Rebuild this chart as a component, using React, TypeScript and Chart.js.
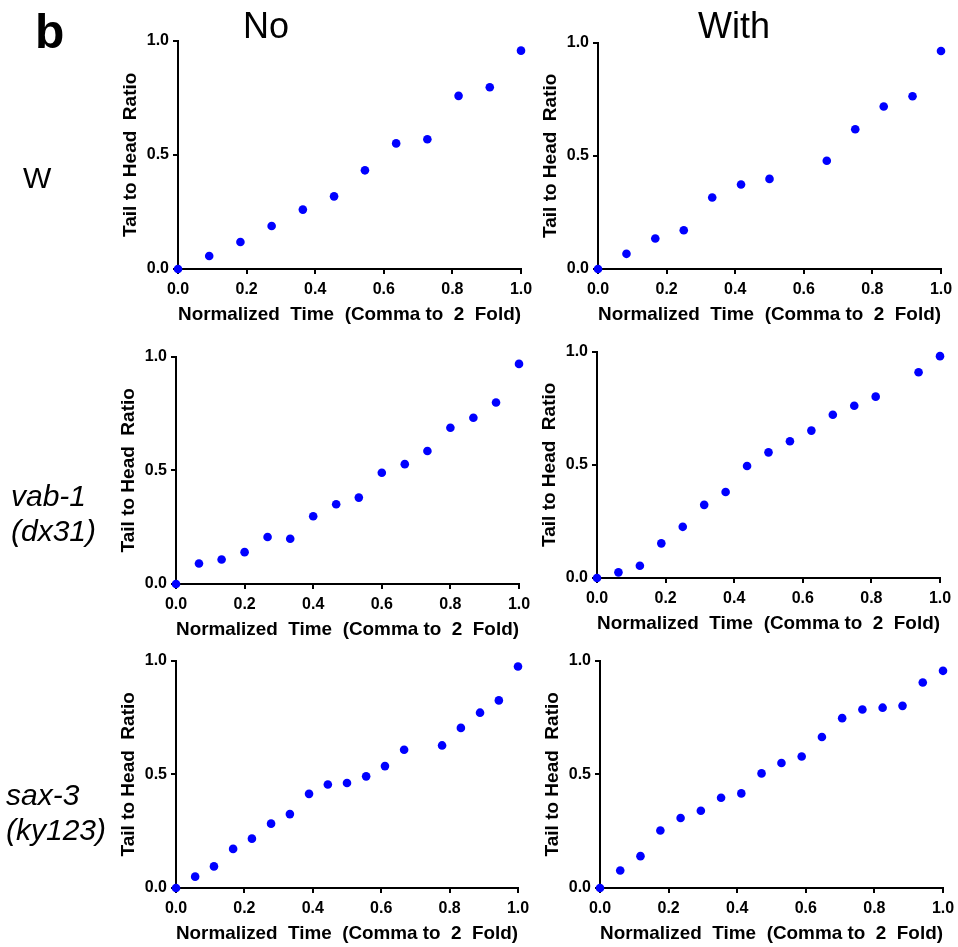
import React, { useEffect, useRef } from "react";
import { Chart, registerables } from "chart.js";

Chart.register(...registerables);

// ---------- data ----------
const X_TICKS = [0, 0.2, 0.4, 0.6, 0.8, 1.0];
const Y_TICKS = [0, 0.5, 1.0];
const X_TITLE = "Normalized  Time  (Comma to  2  Fold)";
const Y_TITLE = "Tail to Head  Ratio";
const PANEL_LETTER = "b";
const COLUMN_TITLES = ["No", "With"];
const ROW_LABEL_W = ["W"];
const ROW_LABEL_VAB = ["vab-1", "(dx31)"];
const ROW_LABEL_SAX = ["sax-3", "(ky123)"];

// W, No
const wNoX = [0, 0.091, 0.182, 0.273, 0.364, 0.455, 0.545, 0.636, 0.727, 0.818, 0.909, 1.0];
const wNoY = [0, 0.057, 0.118, 0.188, 0.26, 0.318, 0.432, 0.55, 0.568, 0.758, 0.796, 0.956];
// W, With
const wWithX = [0, 0.083, 0.167, 0.25, 0.333, 0.417, 0.5, 0.667, 0.75, 0.833, 0.917, 1.0];
const wWithY = [0, 0.067, 0.135, 0.171, 0.316, 0.373, 0.398, 0.478, 0.617, 0.718, 0.763, 0.963];
// vab-1, No
const vabNoX = [0, 0.067, 0.133, 0.2, 0.267, 0.333, 0.4, 0.467, 0.533, 0.6, 0.667, 0.733, 0.8, 0.867, 0.933, 1.0];
const vabNoY = [0, 0.09, 0.108, 0.14, 0.207, 0.199, 0.298, 0.351, 0.38, 0.489, 0.527, 0.585, 0.687, 0.731, 0.798, 0.968];
// vab-1, With
const vabWithX = [0, 0.0625, 0.125, 0.1875, 0.25, 0.3125, 0.375, 0.4375, 0.5, 0.5625, 0.625, 0.6875, 0.75, 0.8125, 0.9375, 1.0];
const vabWithY = [0, 0.025, 0.054, 0.153, 0.226, 0.323, 0.38, 0.495, 0.555, 0.604, 0.651, 0.721, 0.761, 0.801, 0.909, 0.98];
// sax-3, No
const saxNoX = [0, 0.056, 0.111, 0.167, 0.222, 0.278, 0.333, 0.389, 0.444, 0.5, 0.556, 0.611, 0.667, 0.778, 0.833, 0.889, 0.944, 1.0];
const saxNoY = [0, 0.05, 0.095, 0.172, 0.217, 0.283, 0.325, 0.414, 0.455, 0.462, 0.491, 0.536, 0.608, 0.627, 0.704, 0.771, 0.825, 0.974];
// sax-3, With
const saxWithX = [0, 0.059, 0.118, 0.176, 0.235, 0.294, 0.353, 0.412, 0.471, 0.529, 0.588, 0.647, 0.706, 0.765, 0.824, 0.882, 0.941, 1.0];
const saxWithY = [0, 0.077, 0.14, 0.253, 0.308, 0.34, 0.397, 0.416, 0.504, 0.55, 0.578, 0.664, 0.747, 0.785, 0.793, 0.801, 0.904, 0.955];

// ---------- styling / layout ----------
const FONT = '"Liberation Sans", Arial, Helvetica, sans-serif';
const WY = 70;
const PT = 12;
const PR = 26;
const HX = 60;

type Box = { L: number; T: number; R: number; B: number };

function Panel({ xs, ys, box }: { xs: number[]; ys: number[]; box: Box }) {
  const ref = useRef<HTMLCanvasElement>(null);
  const w = box.R - box.L + WY + PR;
  const h = box.B - box.T + PT + HX;

  useEffect(() => {
    const canvas = ref.current!;
    const chart = new Chart(canvas, {
      type: "scatter",
      data: {
        datasets: [
          {
            data: xs.map((x, i) => ({ x, y: ys[i] })),
            pointRadius: 4.3,
            pointHoverRadius: 4.3,
            pointBackgroundColor: "#0000ff",
            pointBorderColor: "#0000ff",
            pointBorderWidth: 0,
            showLine: false,
            clip: false as any,
          },
        ],
      },
      options: {
        responsive: false,
        maintainAspectRatio: false,
        animation: false,
        events: [],
        layout: { padding: { left: 0, top: PT, right: PR, bottom: 0 } },
        plugins: {
          legend: { display: false },
          tooltip: { enabled: false },
        },
        scales: {
          x: {
            type: "linear",
            min: 0,
            max: 1,
            afterBuildTicks: (s: any) => {
              s.ticks = X_TICKS.map((v) => ({ value: v }));
            },
            afterFit: (s: any) => {
              s.height = HX;
            },
            grid: {
              display: true,
              drawOnChartArea: false,
              drawTicks: true,
              tickLength: 5,
              color: "#000",
              lineWidth: 2,
            },
            border: { display: true, color: "#000", width: 2 },
            ticks: {
              color: "#000",
              font: { family: FONT, size: 16, weight: "bold" },
              padding: 6,
              maxRotation: 0,
              autoSkip: false,
              callback: (v: any) => Number(v).toFixed(1),
            },
            title: {
              display: true,
              text: X_TITLE,
              color: "#000",
              font: { family: FONT, size: 19, weight: "bold" },
              padding: { top: 0, bottom: 3 },
            },
          },
          y: {
            type: "linear",
            min: 0,
            max: 1,
            afterBuildTicks: (s: any) => {
              s.ticks = Y_TICKS.map((v) => ({ value: v }));
            },
            afterFit: (s: any) => {
              s.width = WY;
            },
            grid: {
              display: true,
              drawOnChartArea: false,
              drawTicks: true,
              tickLength: 5,
              color: "#000",
              lineWidth: 2,
            },
            border: { display: true, color: "#000", width: 2 },
            ticks: {
              color: "#000",
              font: { family: FONT, size: 16, weight: "bold" },
              padding: 4,
              autoSkip: false,
              callback: (v: any) => Number(v).toFixed(1),
            },
            title: {
              display: true,
              text: Y_TITLE,
              color: "#000",
              font: { family: FONT, size: 19, weight: "bold" },
              padding: { top: 11, bottom: 0 },
            },
          },
        },
      } as any,
    });
    return () => chart.destroy();
  }, []);

  return (
    <canvas
      ref={ref}
      width={w}
      height={h}
      style={{ position: "absolute", left: box.L - WY, top: box.T - PT, width: w, height: h }}
    />
  );
}

export default function App() {
  useEffect(() => {
    document.body.style.margin = "0";
  }, []);

  return (
    <div style={{ position: "absolute", left: 0, top: 0, width: 958, height: 947, background: "#fff", overflow: "hidden" }}>
      <Panel xs={wNoX} ys={wNoY} box={{ L: 178, T: 39, R: 521, B: 269 }} />
      <Panel xs={wWithX} ys={wWithY} box={{ L: 598, T: 41, R: 941, B: 269 }} />
      <Panel xs={vabNoX} ys={vabNoY} box={{ L: 176, T: 355, R: 519, B: 584 }} />
      <Panel xs={vabWithX} ys={vabWithY} box={{ L: 597, T: 350, R: 940, B: 578 }} />
      <Panel xs={saxNoX} ys={saxNoY} box={{ L: 176, T: 659, R: 518, B: 888 }} />
      <Panel xs={saxWithX} ys={saxWithY} box={{ L: 600, T: 659, R: 943, B: 888 }} />
      <svg
        width={958}
        height={947}
        style={{ position: "absolute", left: 0, top: 0, pointerEvents: "none" }}
        fontFamily={FONT}
      >
        <text x={35} y={48} fontSize={48} fontWeight="bold" fill="#000">{PANEL_LETTER}</text>
        <text x={266} y={38} fontSize={36} textAnchor="middle" fill="#000">{COLUMN_TITLES[0]}</text>
        <text x={734} y={38} fontSize={36} textAnchor="middle" fill="#000">{COLUMN_TITLES[1]}</text>
        <text x={23} y={188} fontSize={30} fill="#000">{ROW_LABEL_W[0]}</text>
        <text x={11} y={506} fontSize={30} fontStyle="italic" fill="#000">{ROW_LABEL_VAB[0]}</text>
        <text x={11} y={541} fontSize={30} fontStyle="italic" fill="#000">{ROW_LABEL_VAB[1]}</text>
        <text x={6} y={805} fontSize={30} fontStyle="italic" fill="#000">{ROW_LABEL_SAX[0]}</text>
        <text x={6} y={840} fontSize={30} fontStyle="italic" fill="#000">{ROW_LABEL_SAX[1]}</text>
      </svg>
    </div>
  );
}
